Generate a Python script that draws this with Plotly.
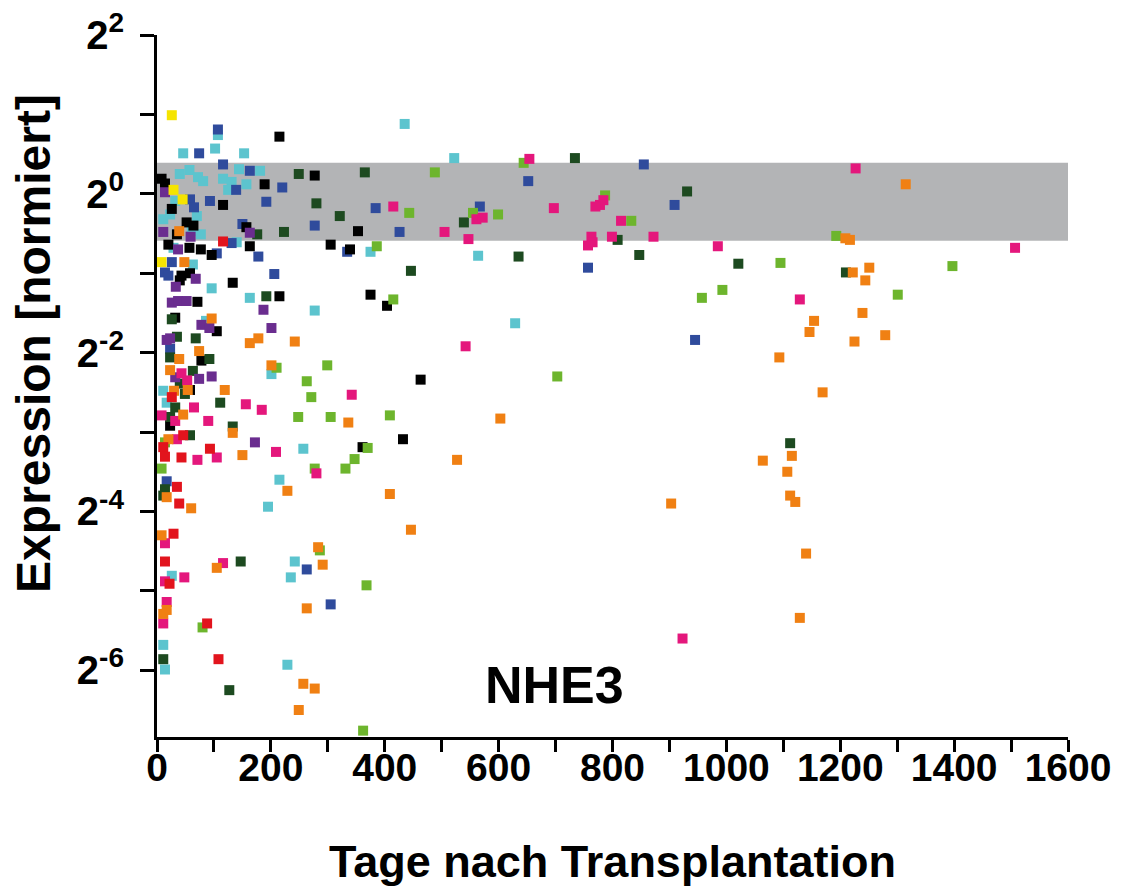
import plotly.graph_objects as go

# days after transplantation / log2 of normalised expression, one list pair per patient group
cyan_days = [107, 46, 102, 153, 144, 181, 40, 57, 72, 81, 116, 131, 125, 157, 32, 11, 23, 70, 61, 77,
             140, 29, 63, 96, 163, 86, 201, 11, 17, 215, 195, 242, 26, 235, 11, 14, 229, 435, 522, 375,
             564, 277, 257, 629]
cyan_expr = [0.74, 0.51, 0.57, 0.51, 0.31, 0.29, 0.25, 0.30, 0.21, 0.16, 0.19, 0.15, 0.05, 0.12, -0.09,
             -0.32, -0.26, -0.28, -0.47, -0.51, -0.61, -0.68, -0.89, -1.19, -1.31, -1.60, -2.27, -2.48,
             -2.63, -3.60, -3.94, -4.63, -4.81, -4.83, -5.68, -5.99, -5.93, 0.88, 0.45, -0.73, -0.78,
             -1.47, -3.21, -1.63]

blue_days = [107, 74, 116, 163, 139, 220, 58, 65, 93, 192, 150, 131, 105, 178, 26, 14, 20, 206, 23, 17,
             277, 384, 426, 334, 567, 263, 305, 855, 652, 909, 757, 945]
blue_expr = [0.81, 0.51, 0.37, 0.29, 0.05, 0.08, -0.07, -0.17, -0.09, -0.10, -0.38, -0.62, -0.75, -0.79,
             -0.86, -0.99, -1.03, -1.01, -1.95, -3.62, -0.40, -0.18, -0.48, -0.73, -0.16, -4.73, -5.17,
             0.37, 0.16, -0.14, -0.93, -1.84]

black_days = [215, 8, 14, 189, 116, 26, 52, 64, 35, 157, 163, 20, 57, 77, 96, 43, 58, 40, 133, 215,
              71, 32, 105, 78, 58, 23, 277, 353, 305, 339, 375, 404, 463, 432, 361]
black_expr = [0.72, 0.19, 0.13, 0.12, -0.14, -0.19, -0.36, -0.40, -0.51, -0.42, -0.66, -0.64, -0.68,
              -0.70, -0.77, -1.03, -1.00, -1.09, -1.12, -1.29, -1.36, -1.56, -1.73, -2.10, -2.47, -2.92,
              0.23, -0.47, -0.64, -0.70, -1.27, -1.41, -2.34, -3.09, -3.19]

dkgreen_days = [249, 176, 223, 192, 26, 35, 68, 23, 92, 63, 40, 49, 32, 111, 23, 133, 58, 14, 11, 147,
                11, 127, 365, 280, 321, 539, 446, 734, 931, 809, 635, 847, 1021, 1210, 1112]
dkgreen_expr = [0.25, -0.51, -0.48, -1.29, -1.58, -1.80, -1.82, -2.06, -2.08, -2.23, -2.39, -2.52,
                -2.69, -2.63, -2.81, -2.93, -3.04, -3.72, -3.80, -4.63, -5.86, -6.25, 0.27, -0.12,
                -0.28, -0.36, -0.97, 0.45, 0.03, -0.58, -0.79, -0.77, -0.88, -0.99, -3.14]

ltgreen_days = [210, 248, 14, 8, 80, 488, 443, 555, 386, 415, 299, 263, 271, 305, 409, 370, 347, 331,
                277, 286, 368, 362, 644, 787, 599, 833, 993, 957, 703, 1193, 1095, 1397, 1301]
ltgreen_expr = [-2.19, -2.81, -3.13, -3.46, -5.46, 0.27, -0.24, -0.24, -0.66, -1.33, -2.16, -2.36,
                -2.56, -2.81, -2.79, -3.20, -3.34, -3.46, -3.46, -4.49, -4.93, -6.76, 0.39, -0.02,
                -0.26, -0.34, -1.21, -1.31, -2.30, -0.53, -0.87, -0.91, -1.27]

magenta_days = [43, 53, 65, 156, 184, 8, 90, 32, 35, 71, 105, 209, 14, 116, 14, 48, 17, 11, 415, 505,
                561, 572, 547, 542, 342, 280, 654, 784, 778, 770, 697, 815, 763, 765, 757, 799, 872,
                985, 1227, 1507, 1129, 923]
magenta_expr = [-2.26, -2.35, -2.69, -2.65, -2.72, -2.79, -2.86, -2.86, -3.09, -3.35, -3.32, -3.25,
                -4.40, -4.65, -4.88, -4.83, -5.14, -5.41, -0.16, -0.48, -0.32, -0.30, -0.57, -1.92,
                -2.53, -3.52, 0.44, -0.08, -0.14, -0.16, -0.18, -0.34, -0.54, -0.61, -0.65, -0.54,
                -0.54, -0.66, 0.32, -0.68, -1.33, -5.60]

orange_days = [39, 48, 96, 163, 178, 242, 39, 74, 201, 23, 54, 119, 30, 46, 133, 20, 150, 17, 60, 229,
               8, 105, 11, 17, 336, 527, 409, 446, 283, 291, 263, 257, 277, 249, 603, 903, 1315, 1209,
               1217, 1222, 1251, 1244, 1239, 1154, 1146, 1279, 1225, 1093, 1169, 1115, 1064, 1107,
               1112, 1121, 1140, 1129]
orange_expr = [-0.47, -0.86, -1.57, -1.88, -1.82, -1.86, -2.08, -1.98, -2.16, -2.22, -2.47, -2.47,
               -2.48, -2.78, -3.01, -3.09, -3.29, -3.82, -3.96, -3.74, -4.30, -4.71, -5.29, -5.24,
               -2.88, -3.35, -3.78, -4.23, -4.45, -4.67, -5.22, -6.17, -6.23, -6.50, -2.83, -3.90,
               0.12, -0.56, -0.58, -0.99, -0.93, -1.09, -1.50, -1.60, -1.74, -1.78, -1.86, -2.06,
               -2.50, -3.30, -3.36, -3.50, -3.80, -3.88, -4.53, -5.34]

red_days = [116, 26, 46, 11, 14, 43, 93, 35, 39, 29, 14, 22, 88, 108]
red_expr = [-0.60, -2.56, -3.04, -3.19, -3.31, -3.32, -3.21, -3.69, -3.90, -4.28, -4.63, -4.91, -5.41, -5.86]

purple_days = [14, 11, 59, 163, 37, 68, 33, 26, 37, 52, 187, 78, 92, 201, 17, 23, 32, 74, 96, 172]
purple_expr = [0.02, -0.48, -0.54, -0.49, -0.70, -1.07, -1.17, -1.37, -1.35, -1.35, -1.46, -1.65,
               -1.69, -1.69, -1.84, -1.82, -2.31, -2.33, -2.30, -3.13]

yellow_days = [26, 29, 45, 8]
yellow_expr = [0.99, 0.05, -0.07, -0.86]

# normal range (grey band), log2 units
band_low, band_high = -0.59, 0.39

y_ticks = [-6, -4, -2, 0, 2]
y_ticktext = ["2<sup>-6</sup>", "2<sup>-4</sup>", "2<sup>-2</sup>", "2<sup>0</sup>", "2<sup>2</sup>"]

groups = [
    (cyan_days, cyan_expr, "#5cc4ce"),
    (blue_days, blue_expr, "#2f4b9c"),
    (black_days, black_expr, "#000000"),
    (dkgreen_days, dkgreen_expr, "#1d4a20"),
    (purple_days, purple_expr, "#6a2d8f"),
    (yellow_days, yellow_expr, "#f5e400"),
    (ltgreen_days, ltgreen_expr, "#6db52d"),
    (magenta_days, magenta_expr, "#e4177c"),
    (orange_days, orange_expr, "#f08013"),
    (red_days, red_expr, "#e2141d"),
]

FONT = "Liberation Sans, Arial, sans-serif"

fig = go.Figure()
for days, expr, col in groups:
    fig.add_trace(go.Scatter(
        x=days, y=expr, mode="markers",
        marker=dict(symbol="square", size=10, color=col, line=dict(width=0)),
        showlegend=False, hoverinfo="x+y",
    ))

fig.add_shape(type="rect", xref="x", yref="y", x0=0, x1=1600, y0=band_low, y1=band_high,
              fillcolor="#b3b4b6", line=dict(width=0), layer="below")

fig.add_annotation(x=698, y=-6.19, text="<b>NHE3</b>", showarrow=False,
                   font=dict(family=FONT, size=52, color="black"))

# y title placed by hand (it sits a bit above the axis centre in the original)
fig.add_annotation(xref="paper", yref="paper", x=-0.135, y=0.56, textangle=-90,
                   text="<b>Expression [normiert]</b>", showarrow=False,
                   xanchor="center", yanchor="middle",
                   font=dict(family=FONT, size=48, color="black"))

# the page body adds an 8px offset, so margins are trimmed by that much on the left/top
fig.update_layout(
    width=1134, height=892,
    margin=dict(l=149, r=74, t=27, b=163),
    plot_bgcolor="white", paper_bgcolor="white",
    font=dict(family=FONT, color="black"),
)

fig.update_xaxes(
    range=[0, 1600], dtick=200, tick0=0, automargin=False,
    showline=True, linecolor="black", linewidth=3,
    ticks="outside", ticklen=12, tickwidth=3, tickcolor="black",
    minor=dict(dtick=100, ticks="outside", ticklen=12, tickwidth=3, tickcolor="black"),
    showgrid=False, zeroline=False, ticklabelstandoff=-18, ticklabeloverflow="allow",
    tickfont=dict(family=FONT, size=39, color="black", weight="bold"),
    title=dict(text="<b>Tage nach Transplantation</b>", standoff=58,
               font=dict(family=FONT, size=45, color="black")),
)

fig.update_yaxes(
    range=[-6.84, 2.0], tickvals=y_ticks, ticktext=y_ticktext, automargin=False,
    showline=True, linecolor="black", linewidth=3,
    ticks="outside", ticklen=14, tickwidth=3, tickcolor="black",
    minor=dict(tickvals=[-5, -3, -1, 1], ticks="outside", ticklen=14, tickwidth=3, tickcolor="black"),
    showgrid=False, zeroline=False, ticklabelstandoff=8, ticklabeloverflow="allow",
    tickfont=dict(family=FONT, size=40, color="black", weight="bold"),
)

fig.write_html("out.html")
